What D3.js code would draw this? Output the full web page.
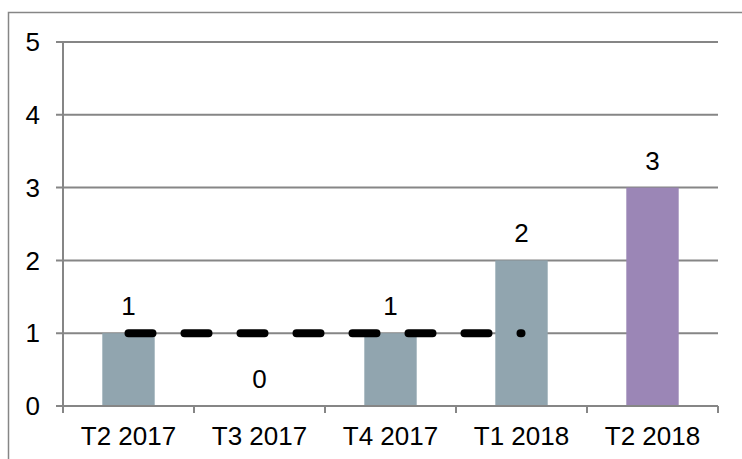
<!DOCTYPE html>
<html>
<head>
<meta charset="utf-8">
<script src="https://cdn.jsdelivr.net/npm/d3@7"></script>
<style>
	body { margin: 0; background: #fff; }
	svg { display: block; font-family: "Liberation Sans", Arial, sans-serif; }
</style>
</head>
<body>
<svg id="chart" width="742" height="459"></svg>
<script>
	'use strict';

	var categories = ['T2 2017', 'T3 2017', 'T4 2017', 'T1 2018', 'T2 2018'];
	var values = [1, 0, 1, 2, 3];
	var barColors = ['#91a5af', '#91a5af', '#91a5af', '#91a5af', '#9b86b6'];
	var targetValues = [1, 1, 1, 1, null];
	var yTicks = [0, 1, 2, 3, 4, 5];

	var chart = d3.select('#chart'),
		margin = { top: 42, right: 24, bottom: 53, left: 63 },
		width = 742 - margin.left - margin.right,
		height = 459 - margin.top - margin.bottom;

	// outer frame
	chart.append('rect')
		.attr('x', 8.5)
		.attr('y', 12.5)
		.attr('width', 760)
		.attr('height', 470)
		.attr('fill', 'none')
		.attr('stroke', '#868686')
		.attr('stroke-width', 1.5);

	var xScale = d3.scaleBand()
		.domain(categories)
		.range([0, width])
		.paddingInner(0.6)
		.paddingOuter(0.3);

	var xBand = d3.scaleBand()
		.domain(categories)
		.range([0, width]);

	var yScale = d3.scaleLinear()
		.domain([0, 5])
		.range([height, 0]);

	var g = chart.append('g')
		.attr('transform', 'translate(' + margin.left + ',' + margin.top + ')');

	// gridlines
	g.append('g')
		.selectAll('line')
		.data(yTicks)
		.enter()
		.append('line')
		.attr('x1', -7)
		.attr('x2', width)
		.attr('y1', function(d) { return yScale(d); })
		.attr('y2', function(d) { return yScale(d); })
		.attr('stroke', '#868686')
		.attr('stroke-width', 2);

	// bars
	g.selectAll('.bar')
		.data(values)
		.enter()
		.append('rect')
		.attr('class', 'bar')
		.attr('x', function(d, i) { return xScale(categories[i]); })
		.attr('y', function(d) { return yScale(d); })
		.attr('width', xScale.bandwidth())
		.attr('height', function(d) { return height - yScale(d); })
		.attr('fill', function(d, i) { return barColors[i]; });

	// y axis line
	g.append('line')
		.attr('x1', 0).attr('x2', 0)
		.attr('y1', 0).attr('y2', height)
		.attr('stroke', '#868686')
		.attr('stroke-width', 2);

	// x axis line and ticks
	var xTickPos = xBand.domain().map(function(c) { return xBand(c); }).concat([width]);
	g.append('line')
		.attr('x1', 0).attr('x2', width)
		.attr('y1', height).attr('y2', height)
		.attr('stroke', '#868686')
		.attr('stroke-width', 2);
	g.append('g')
		.selectAll('line')
		.data(xTickPos)
		.enter()
		.append('line')
		.attr('x1', function(d) { return d; })
		.attr('x2', function(d) { return d; })
		.attr('y1', height)
		.attr('y2', height + 7)
		.attr('stroke', '#868686')
		.attr('stroke-width', 2);

	// y tick labels
	g.append('g')
		.selectAll('text')
		.data(yTicks)
		.enter()
		.append('text')
		.attr('x', -23)
		.attr('y', function(d) { return yScale(d); })
		.attr('dy', '0.35em')
		.attr('text-anchor', 'end')
		.attr('font-size', 26)
		.text(function(d) { return d; });

	// x tick labels
	g.append('g')
		.selectAll('text')
		.data(categories)
		.enter()
		.append('text')
		.attr('x', function(d) { return xBand(d) + xBand.bandwidth() / 2; })
		.attr('y', height + 39)
		.attr('text-anchor', 'middle')
		.attr('font-size', 26)
		.text(function(d) { return d; });

	// target dashed line
	var line = d3.line()
		.defined(function(d) { return d != null; })
		.x(function(d, i) { return xBand(categories[i]) + xBand.bandwidth() / 2; })
		.y(function(d) { return yScale(d); });

	g.append('path')
		.datum(targetValues)
		.attr('d', line)
		.attr('fill', 'none')
		.attr('stroke', '#000')
		.attr('stroke-width', 8)
		.attr('stroke-linecap', 'round')
		.attr('stroke-dasharray', '24,32');

	// value labels
	g.append('g')
		.selectAll('text')
		.data(values)
		.enter()
		.append('text')
		.attr('x', function(d, i) { return xBand(categories[i]) + xBand.bandwidth() / 2; })
		.attr('y', function(d) { return yScale(d) - 18; })
		.attr('text-anchor', 'middle')
		.attr('font-size', 26)
		.text(function(d) { return d; });
</script>
</body>
</html>
